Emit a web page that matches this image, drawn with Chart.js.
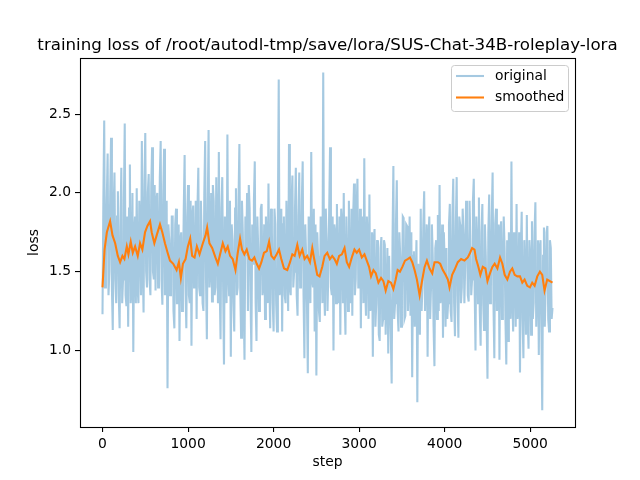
<!DOCTYPE html>
<html>
<head>
<meta charset="utf-8">
<script src="https://cdn.jsdelivr.net/npm/chart.js@4/dist/chart.umd.min.js"></script>
<style>
  html, body { margin: 0; padding: 0; background: #fff; }
</style>
</head>
<body>
<canvas id="lossChart" width="640" height="480"></canvas>
<script>
// raw loss, logged every 10 steps (estimated off the plot)
var LOG_INTERVAL = 10;
var originalLoss = [
  1.23,1.95,2.46,1.40,1.60,1.95,2.25,1.35,1.50,2.00,2.35,1.40,1.13,1.90,2.13,1.45,1.30,1.85,2.01,1.35,
  1.14,1.80,2.16,1.30,1.45,1.95,2.44,1.35,1.28,1.85,1.15,1.90,2.18,1.30,1.40,2.00,0.99,1.75,1.85,1.30,
  2.03,1.40,1.30,1.95,1.75,1.35,2.33,1.55,1.24,2.05,2.38,1.50,1.40,2.00,2.12,1.45,1.35,2.05,2.29,1.50,
  1.45,2.05,1.38,1.95,2.00,1.40,1.50,2.10,2.33,1.45,1.29,2.00,2.28,1.35,1.45,1.95,0.76,1.80,1.70,1.35,
  1.50,1.85,1.85,1.25,1.14,1.80,1.90,1.30,1.30,1.80,1.06,1.70,1.75,1.25,1.40,1.90,2.24,1.40,1.14,1.85,
  2.05,1.35,1.30,1.95,1.03,1.85,1.92,1.40,1.45,1.95,1.20,1.90,2.16,1.40,1.35,1.95,1.70,1.30,1.25,2.00,
  2.33,1.45,1.07,1.90,2.40,1.40,1.50,2.00,1.31,2.05,1.95,1.35,1.40,2.10,1.70,1.30,2.26,1.40,1.07,1.90,
  2.10,1.40,0.91,1.85,1.80,1.30,2.37,1.50,1.35,1.95,0.96,1.80,1.70,1.30,1.12,1.90,2.03,1.35,1.40,1.95,
  2.31,1.40,1.08,1.95,1.75,1.30,0.94,1.85,1.60,2.00,1.25,2.05,1.90,1.35,0.99,1.80,1.55,1.95,2.20,1.30,
  1.06,1.85,1.65,1.25,1.30,1.90,1.93,1.35,1.42,1.80,1.20,1.85,1.70,1.30,2.06,1.45,1.14,1.90,1.75,1.30,
  1.12,1.90,1.80,1.30,1.12,1.85,2.72,1.35,1.40,1.90,1.12,1.80,1.85,1.35,1.30,1.95,1.60,1.25,2.31,1.40,
  1.35,1.95,2.11,1.40,1.50,1.90,2.16,1.35,1.22,1.85,2.13,1.40,1.45,1.95,2.20,1.35,0.95,1.80,1.60,1.30,
  0.855,1.85,1.80,1.30,2.26,1.45,1.40,1.90,1.12,1.80,0.84,1.75,1.60,1.25,1.18,1.85,1.75,1.30,2.765,1.40,
  1.22,1.90,1.70,1.25,1.50,1.90,2.29,1.40,1.35,1.85,1.00,1.80,1.75,1.30,1.93,1.40,1.30,1.85,1.10,1.90,
  1.80,1.30,2.00,1.35,1.10,1.85,1.60,1.25,1.95,1.40,1.30,1.90,1.22,1.85,2.06,1.35,1.45,1.90,2.09,1.40,
  1.40,1.90,1.14,1.80,1.85,1.30,2.22,1.40,1.22,1.85,1.70,1.20,1.99,1.25,1.30,1.75,0.96,1.70,1.77,1.15,
  1.30,1.70,1.65,1.10,1.06,1.65,1.72,1.15,1.20,1.70,1.67,1.10,1.35,1.65,0.98,1.60,1.60,1.10,0.79,1.70,
  2.17,1.20,1.30,1.80,2.08,1.25,1.12,1.75,1.60,1.15,1.35,1.85,1.84,1.20,1.22,1.80,1.79,1.25,1.40,1.85,
  1.22,1.75,0.83,1.60,1.63,1.15,1.45,1.70,0.67,1.55,1.50,1.10,1.90,1.25,1.40,1.80,2.01,1.25,1.25,1.80,
  0.96,1.70,1.85,1.20,1.40,1.80,1.60,1.15,0.90,1.65,1.70,1.20,1.86,1.25,2.05,1.30,1.35,1.80,1.08,1.75,
  1.55,1.15,1.65,1.20,1.30,1.80,1.93,1.25,1.18,1.85,2.09,1.30,1.09,1.80,2.10,1.35,1.08,1.85,1.80,1.30,
  1.40,1.90,1.74,1.30,1.55,1.95,1.78,1.35,1.31,1.95,1.70,1.35,1.45,1.95,2.09,1.40,1.00,1.85,1.70,1.30,
  1.97,1.25,1.03,1.75,1.93,1.30,1.13,1.80,1.60,1.20,0.82,1.75,1.99,1.30,1.40,1.85,2.13,1.30,0.95,1.80,
  1.90,1.25,1.30,1.80,0.94,1.75,1.82,1.20,1.40,1.85,1.65,1.20,0.91,1.70,1.06,1.75,1.60,1.20,2.20,1.35,
  1.12,1.75,1.55,1.15,1.93,1.20,1.30,1.75,0.86,1.65,1.88,1.20,0.95,1.70,1.50,1.10,1.86,1.20,1.01,1.70,
  1.60,1.10,1.82,1.20,1.30,1.75,1.94,1.15,1.45,1.70,0.97,1.65,1.70,1.15,0.62,1.60,1.78,1.15,1.40,1.75,
  1.79,1.20,1.12,1.70,1.65,1.20,1.27
];

// smoothed curve, sampled along the orange line
var smoothSteps = [
  0, 24, 51, 89, 117, 148, 179, 206, 233, 256, 284, 303, 330, 354, 381, 412, 439, 466, 497, 525,
  556, 575, 606, 633, 672, 699, 730, 761, 789, 827, 866, 893, 916, 940, 971, 998, 1025, 1048, 1076, 1103,
  1134, 1173, 1204, 1223, 1250, 1282, 1320, 1348, 1379, 1406, 1437, 1464, 1491, 1522, 1554, 1581, 1608, 1631, 1658, 1686,
  1717, 1748, 1775, 1803, 1830, 1857, 1888, 1920, 1947, 1974, 2005, 2036, 2063, 2090, 2122, 2160, 2192, 2219, 2246, 2277,
  2304, 2335, 2362, 2393, 2425, 2452, 2471, 2510, 2537, 2568, 2596, 2627, 2658, 2685, 2712, 2739, 2766, 2798, 2829, 2856,
  2883, 2914, 2945, 2972, 3000, 3031, 3062, 3089, 3116, 3139, 3167, 3194, 3225, 3256, 3283, 3310, 3341, 3372, 3400, 3427,
  3450, 3477, 3505, 3536, 3567, 3594, 3621, 3648, 3675, 3707, 3738, 3765, 3792, 3823, 3854, 3881, 3920, 3947, 3978, 4010,
  4037, 4056, 4087, 4114, 4153, 4192, 4231, 4270, 4297, 4320, 4348, 4367, 4394, 4417, 4445, 4476, 4500, 4530, 4557, 4584,
  4616, 4647, 4674, 4701, 4732, 4763, 4790, 4818, 4849, 4880, 4907, 4934, 4965, 4996, 5023, 5051, 5082, 5113, 5140, 5167,
  5198, 5229, 5260
];
var smoothLoss = [
  1.40, 1.64, 1.75, 1.82, 1.73, 1.68, 1.60, 1.56, 1.60, 1.58, 1.66, 1.61, 1.69, 1.62, 1.66, 1.60, 1.68, 1.64, 1.75, 1.79,
  1.82, 1.75, 1.68, 1.73, 1.80, 1.75, 1.68, 1.62, 1.57, 1.55, 1.51, 1.56, 1.46, 1.55, 1.58, 1.66, 1.71, 1.60, 1.59, 1.66,
  1.61, 1.68, 1.73, 1.78, 1.68, 1.65, 1.59, 1.55, 1.62, 1.68, 1.63, 1.66, 1.60, 1.58, 1.51, 1.62, 1.71, 1.64, 1.61, 1.64,
  1.58, 1.57, 1.59, 1.55, 1.52, 1.56, 1.62, 1.63, 1.69, 1.60, 1.58, 1.61, 1.64, 1.58, 1.52, 1.51, 1.56, 1.61, 1.60, 1.67,
  1.60, 1.64, 1.58, 1.60, 1.56, 1.65, 1.59, 1.48, 1.47, 1.53, 1.60, 1.62, 1.58, 1.60, 1.58, 1.55, 1.60, 1.61, 1.65, 1.56,
  1.53, 1.59, 1.64, 1.62, 1.64, 1.59, 1.61, 1.57, 1.53, 1.47, 1.51, 1.49, 1.43, 1.46, 1.44, 1.38, 1.44, 1.43, 1.39, 1.45,
  1.51, 1.50, 1.53, 1.57, 1.58, 1.59, 1.56, 1.51, 1.45, 1.35, 1.45, 1.53, 1.57, 1.52, 1.49, 1.56, 1.56, 1.55, 1.51, 1.48,
  1.45, 1.40, 1.48, 1.51, 1.56, 1.58, 1.57, 1.59, 1.62, 1.65, 1.64, 1.58, 1.53, 1.48, 1.53, 1.52, 1.44, 1.49, 1.53, 1.55,
  1.52, 1.59, 1.55, 1.48, 1.45, 1.50, 1.52, 1.48, 1.47, 1.47, 1.43, 1.45, 1.41, 1.40, 1.43, 1.41, 1.47, 1.50, 1.48, 1.38,
  1.45, 1.44, 1.43
];

var xTicks = [0, 1000, 2000, 3000, 4000, 5000];
var yTicks = [1.0, 1.5, 2.0, 2.5];
var chartTitle = "training loss of /root/autodl-tmp/save/lora/SUS-Chat-34B-roleplay-lora";

var blueFaded = "rgba(31, 119, 180, 0.4)";
var orange = "#ff7f0e";
var font = "DejaVu Sans";

var originalPoints = originalLoss.map(function (v, i) { return { x: i * LOG_INTERVAL, y: v }; });
var smoothPoints = smoothSteps.map(function (s, i) { return { x: s, y: smoothLoss[i] }; });

// matplotlib-ish frame, title and legend
var mplDecor = {
  id: "mplDecor",
  afterDraw: function (chart) {
    var ctx = chart.ctx;
    var a = chart.chartArea;
    ctx.save();
    ctx.strokeStyle = "#000";
    ctx.lineWidth = 1.1;
    ctx.strokeRect(Math.round(a.left) + 0.5, Math.round(a.top) + 0.5,
      Math.round(a.right - a.left), Math.round(a.bottom - a.top));

    ctx.fillStyle = "#000";
    ctx.font = "16.67px '" + font + "'";
    ctx.textAlign = "center";
    ctx.textBaseline = "alphabetic";
    ctx.fillText(chartTitle, (a.left + a.right) / 2, a.top - 8.5);

    // legend box
    var bx = 451, by = 65, bw = 117, bh = 46;
    ctx.beginPath();
    if (ctx.roundRect) ctx.roundRect(bx + 0.5, by + 0.5, bw, bh, 3);
    else ctx.rect(bx + 0.5, by + 0.5, bw, bh);
    ctx.fillStyle = "rgba(255,255,255,0.8)";
    ctx.fill();
    ctx.strokeStyle = "#cccccc";
    ctx.lineWidth = 1;
    ctx.stroke();

    var rows = [["original", blueFaded, 76], ["smoothed", orange, 97.5]];
    ctx.font = "13.89px '" + font + "'";
    ctx.textAlign = "left";
    ctx.textBaseline = "middle";
    rows.forEach(function (r) {
      ctx.beginPath();
      ctx.strokeStyle = r[1];
      ctx.lineWidth = 2.08;
      ctx.moveTo(456, r[2]);
      ctx.lineTo(484, r[2]);
      ctx.stroke();
      ctx.fillStyle = "#000";
      ctx.fillText(r[0], 495, r[2]);
    });
    ctx.restore();
  }
};

var charty = document.getElementById("lossChart");
var lossChart = new Chart(charty, {
  type: "line",
  data: {
    datasets: [
      {
        label: "original",
        data: originalPoints,
        borderColor: blueFaded,
        borderWidth: 2.08,
        pointRadius: 0,
        tension: 0,
        order: 1
      },
      {
        label: "smoothed",
        data: smoothPoints,
        borderColor: orange,
        borderWidth: 2.08,
        pointRadius: 0,
        tension: 0,
        order: 0
      }
    ]
  },
  options: {
    responsive: false,
    animation: false,
    layout: { padding: { left: 0, top: 58, right: 65, bottom: 0 } },
    plugins: {
      legend: { display: false },
      title: { display: false },
      tooltip: { enabled: false }
    },
    scales: {
      x: {
        type: "linear",
        min: -263,
        max: 5523,
        afterBuildTicks: function (scale) {
          scale.ticks = xTicks.map(function (v) { return { value: v }; });
        },
        afterFit: function (scale) { scale.height = 53; },
        grid: { drawOnChartArea: false, drawTicks: true, tickLength: 5, tickColor: "#000", lineWidth: 1.1 },
        border: { display: false },
        ticks: {
          color: "#000",
          padding: 4,
          maxRotation: 0,
          font: { family: font, size: 13.89 },
          callback: function (v) { return String(v); }
        },
        title: {
          display: true,
          text: "step",
          color: "#000",
          font: { family: font, size: 13.89 },
          padding: { top: 0, bottom: 9 }
        }
      },
      y: {
        type: "linear",
        min: 0.5135,
        max: 2.8565,
        afterBuildTicks: function (scale) {
          scale.ticks = yTicks.map(function (v) { return { value: v }; });
        },
        afterFit: function (scale) { scale.width = 80; },
        grid: { drawOnChartArea: false, drawTicks: true, tickLength: 5, tickColor: "#000", lineWidth: 1.1 },
        border: { display: false },
        ticks: {
          color: "#000",
          padding: 4,
          font: { family: font, size: 13.89 },
          callback: function (v) { return Number(v).toFixed(1); }
        },
        title: {
          display: true,
          text: "loss",
          color: "#000",
          font: { family: font, size: 13.89 },
          padding: { top: 26, bottom: 0 }
        }
      }
    }
  },
  plugins: [mplDecor]
});
</script>
</body>
</html>
